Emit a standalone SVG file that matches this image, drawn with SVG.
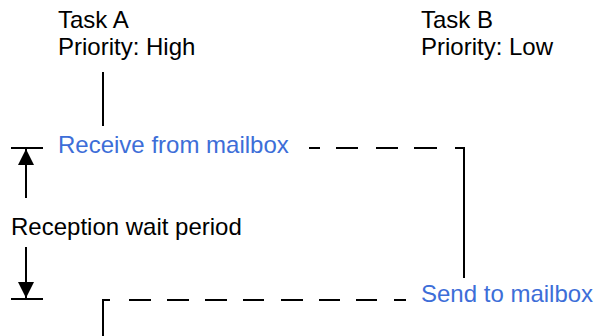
<svg xmlns="http://www.w3.org/2000/svg" width="594" height="336" viewBox="0 0 594 336">
<style>
text{font-family:"Liberation Sans",Arial,sans-serif;font-size:24px;fill:#000}
.blue{fill:#3d6ed8}
.ln{stroke:#000;stroke-width:2;fill:none}
</style>
<defs>
<marker id="ah" viewBox="0 0 16 16" refX="16" refY="8" markerWidth="16" markerHeight="16" markerUnits="userSpaceOnUse" orient="auto">
<path d="M0,0 L16,8 L0,16 Z" fill="#000"/>
</marker>
</defs>
<rect width="594" height="336" fill="#fff"/>
<g id="taskA">
<text x="58" y="28">Task A</text>
<text x="58" y="55">Priority: High</text>
</g>
<g id="taskB">
<text x="421" y="28">Task B</text>
<text x="421" y="55">Priority: Low</text>
</g>
<g id="receive"><text class="blue" x="58" y="153">Receive from mailbox</text></g>
<g id="send"><text class="blue" x="421" y="302">Send to mailbox</text></g>
<g id="wait"><text x="11" y="235">Reception wait period</text></g>
<g id="connectors">
<line class="ln" x1="103" y1="72" x2="103" y2="126"/>
<line class="ln" x1="11" y1="148" x2="43" y2="148"/>
<line class="ln" x1="11" y1="299" x2="43" y2="299"/>
<line class="ln" x1="26" y1="198" x2="26" y2="149" marker-end="url(#ah)"/>
<line class="ln" x1="26" y1="247" x2="26" y2="298" marker-end="url(#ah)"/>
<path class="ln" d="M309,148 H320 M336,148 H358 M376,148 H398 M414,148 H437 M455,148 H464 V278"/>
<path class="ln" d="M103,336 V300 H110 M129,300 H151 M167,300 H189 M205,300 H227 M243,300 H264 M281,300 H303 M319,300 H340 M356,300 H377 M394,300 H406"/>
</g>
</svg>
